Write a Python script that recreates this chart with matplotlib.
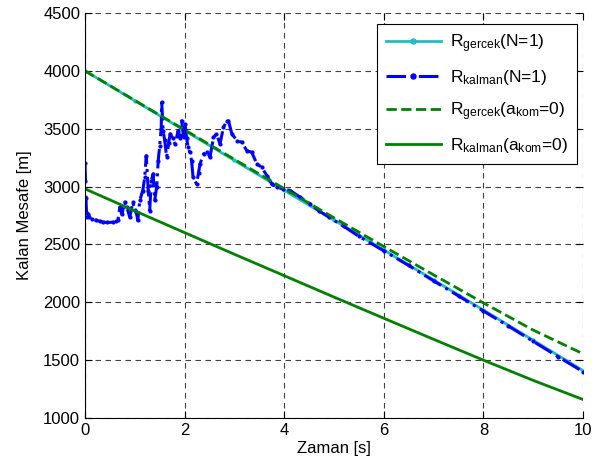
import numpy as np
import matplotlib
matplotlib.use('Agg')
import matplotlib.pyplot as plt

plt.rcParams['font.family'] = ['Liberation Sans', 'DejaVu Sans']
plt.rcParams['mathtext.fontset'] = 'custom'
plt.rcParams['mathtext.rm'] = 'Liberation Sans'
plt.rcParams['mathtext.it'] = 'Liberation Sans'

# true range, N=1
t_true = [0, 1, 2, 3, 4, 5, 6, 7, 8, 9, 10]
r_true = [4000, 3742, 3484, 3226, 2968, 2710, 2452, 2193, 1933, 1672, 1410]

# kalman estimate, N=1
t_kal = [0.0, 0.01, 0.02, 0.03, 0.05, 0.07, 0.09, 0.15, 0.23, 0.30, 0.36, 0.45, 0.56,
         0.62, 0.66, 0.70, 0.74, 0.80, 0.84, 0.90, 0.96, 1.00, 1.03, 1.06, 1.10,
         1.16, 1.20, 1.23, 1.27, 1.30, 1.33, 1.37, 1.40, 1.44, 1.47, 1.50, 1.53,
         1.54, 1.57, 1.60, 1.64, 1.68, 1.71, 1.76, 1.81, 1.87, 1.91, 1.94, 1.98,
         2.01, 2.04, 2.07, 2.10, 2.14, 2.17, 2.24, 2.28, 2.31, 2.38, 2.45, 2.51,
         2.58, 2.64, 2.71, 2.78, 2.85, 2.88, 2.95, 3.05, 3.15, 3.25, 3.35, 3.45,
         3.55, 3.65, 3.75, 3.85, 3.98, 4.12, 4.32, 4.52, 4.70, 4.90, 5.20, 5.50,
         6.00, 6.50, 7.00, 7.50, 8.00, 8.50, 9.00, 9.50, 10.0]
r_kal = [3200, 3050, 2900, 2780, 2740, 2760, 2735, 2720, 2707, 2700, 2692, 2690, 2692,
         2700, 2707, 2822, 2760, 2865, 2820, 2735, 2865, 2800, 2779, 2707, 2880,
         2966, 3080, 3267, 2966, 2793, 3052, 3110, 2880, 3000, 3224, 3353, 3500,
         3727, 3483, 3400, 3253, 3380, 3455, 3420, 3368, 3483, 3420, 3569, 3425,
         3540, 3420, 3339, 3300, 3224, 3080, 3023, 3120, 3196, 3282, 3300, 3253,
         3425, 3455, 3368, 3511, 3569, 3569, 3455, 3397, 3382, 3310, 3296, 3196,
         3167, 3095, 3023, 2994, 2980, 2966, 2908, 2851, 2790, 2735, 2655, 2570,
         2445, 2318, 2185, 2055, 1925, 1795, 1662, 1530, 1400]

# a_kom = 0 cases
t_akom = [0, 1, 2, 3, 4, 5, 6, 7, 8, 9, 10]
r_true_akom = [4000, 3745, 3490, 3235, 2982, 2730, 2482, 2237, 1995, 1760, 1555]
r_kal_akom = [2980, 2790, 2602, 2415, 2230, 2045, 1862, 1680, 1500, 1325, 1160]

fig = plt.figure(figsize=(5.99, 4.70), dpi=100)
ax = fig.add_axes([85 / 599, 1 - 418 / 470, 498 / 599, 405 / 470])

ax.plot(t_true, r_true, color='#1fbfbf', linestyle='-', marker='.', markersize=4,
        linewidth=2, label=r'R$_{\mathrm{gercek}}$(N=1)')
ax.plot(t_kal, r_kal, color='blue', linestyle='-.', marker='.', markersize=4,
        linewidth=2.2, label=r'R$_{\mathrm{kalman}}$(N=1)')
ax.plot(t_akom, r_true_akom, color='green', linestyle='--', linewidth=2,
        label=r'R$_{\mathrm{gercek}}$(a$_{\mathrm{kom}}$=0)')
ax.plot(t_akom, r_kal_akom, color='green', linestyle='-', linewidth=2,
        label=r'R$_{\mathrm{kalman}}$(a$_{\mathrm{kom}}$=0)')

ax.set_xlim(0, 10)
ax.set_ylim(1000, 4500)
ax.set_xticks([0, 2, 4, 6, 8, 10])
ax.set_yticks(np.arange(1000, 4501, 500))
ax.tick_params(direction='in', labelsize=12, length=5, top=True, right=True)
ax.spines['top'].set_visible(False)
ax.spines['right'].set_visible(False)
ax.grid(True, color='0.25', linestyle=(0, (5, 4)), linewidth=0.8)

ax.set_xlabel('Zaman [s]', fontsize=12, labelpad=2)
ax.set_ylabel('Kalan Mesafe [m]', fontsize=12, labelpad=8)

leg = ax.legend(loc='upper right', bbox_to_anchor=(0.987, 0.973), borderaxespad=0,
                fancybox=False, edgecolor='black', framealpha=1, fontsize=12.5,
                handlelength=3.2, markerscale=1.8, labelspacing=0.75,
                borderpad=0.5, handletextpad=0.5)
leg.get_frame().set_linewidth(0.8)

fig.savefig('out.png', dpi=100)
